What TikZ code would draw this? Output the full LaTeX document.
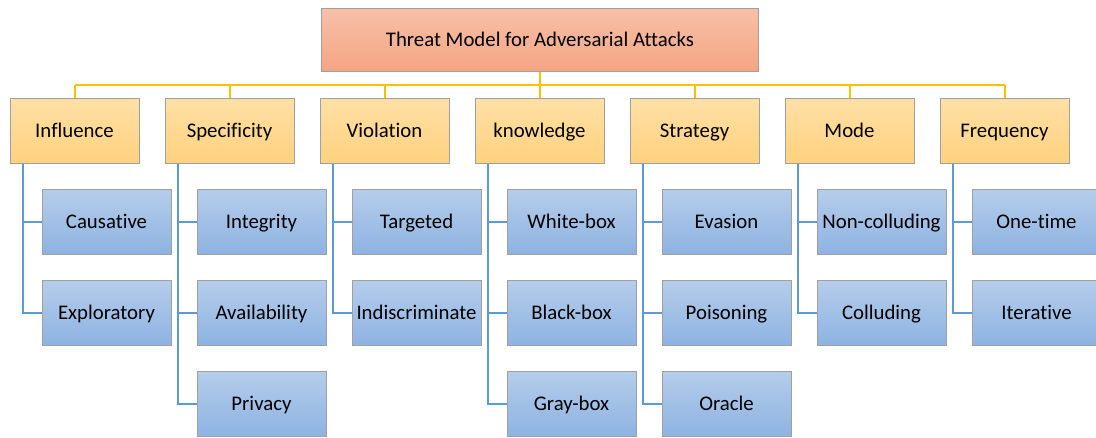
\documentclass[tikz,border=0pt]{standalone}
\usepackage{fontspec}
\setmainfont{Carlito}[Ligatures=NoCommon]
\definecolor{rootTop}{HTML}{F8C0A8}
\definecolor{rootBot}{HTML}{F4A583}
\definecolor{catTop}{HTML}{FFE0A5}
\definecolor{catBot}{HTML}{FED27F}
\definecolor{leafTop}{HTML}{B5CDEA}
\definecolor{leafBot}{HTML}{8EB3E2}
\definecolor{edge}{HTML}{A0A0A0}
\definecolor{busYellow}{HTML}{FFC000}
\definecolor{branchBlue}{HTML}{5B9BD5}
\tikzset{
  box/.style={rectangle, draw=edge, line width=1pt, inner sep=0pt,
    minimum width=129pt, minimum height=65pt, align=center,
    font=\fontsize{20.8}{25}\selectfont, text height=19.6pt, text depth=5.6pt},
  rootbox/.style={box, top color=rootTop, bottom color=rootBot,
    minimum width=437pt, minimum height=63pt},
  catbox/.style={box, top color=catTop, bottom color=catBot},
  leafbox/.style={box, top color=leafTop, bottom color=leafBot},
  bus/.style={draw=busYellow, line width=2pt},
  branch/.style={draw=branchBlue, line width=2pt},
}
\begin{document}
\begin{tikzpicture}[x=1pt, y=-1pt]
\useasboundingbox (0,0) rectangle (1096,437);

\node[rootbox] (root) at (540,39.5) {Threat Model for Adversarial Attacks};
\coordinate (bus) at (540,85);

% categories
\foreach \name/\txt [count=\k from 0] in {c0/Influence, c1/Specificity, c2/Violation, c3/knowledge, c4/Strategy, c5/Mode, c6/Frequency}
  \node[catbox] (\name) at (74.5+155*\k,130.5) {\txt};

% leaves
\foreach \name/\k/\r/\txt in {
  l0a/0/0/Causative, l0b/0/1/Exploratory,
  l1a/1/0/Integrity, l1b/1/1/Availability, l1c/1/2/Privacy,
  l2a/2/0/Targeted, l2b/2/1/Indiscriminate,
  l3a/3/0/White-box, l3b/3/1/Black-box, l3c/3/2/Gray-box,
  l4a/4/0/Evasion, l4b/4/1/Poisoning, l4c/4/2/Oracle,
  l5a/5/0/Non-colluding, l5b/5/1/Colluding,
  l6a/6/0/One-time, l6b/6/1/Iterative}
  \node[leafbox] (\name) at (106.5+155*\k,221.5+91*\r) {\txt};

% yellow bus from the root to the categories
\draw[bus] (root.south) -- (bus);
\draw[bus] (c0.north |- bus) -- (c6.north |- bus);
\foreach \c in {c0,c1,c2,c3,c4,c5,c6}
  \draw[bus] (\c.north) -- (\c.north |- bus);

% blue branches from each category to its leaves
\foreach \c/\l in {c0/l0a, c0/l0b,
  c1/l1a, c1/l1b, c1/l1c,
  c2/l2a, c2/l2b,
  c3/l3a, c3/l3b, c3/l3c,
  c4/l4a, c4/l4b, c4/l4c,
  c5/l5a, c5/l5b,
  c6/l6a, c6/l6b}
  \draw[branch] ([xshift=13.5pt]\c.south west) |- (\l.west);
\end{tikzpicture}
\end{document}
